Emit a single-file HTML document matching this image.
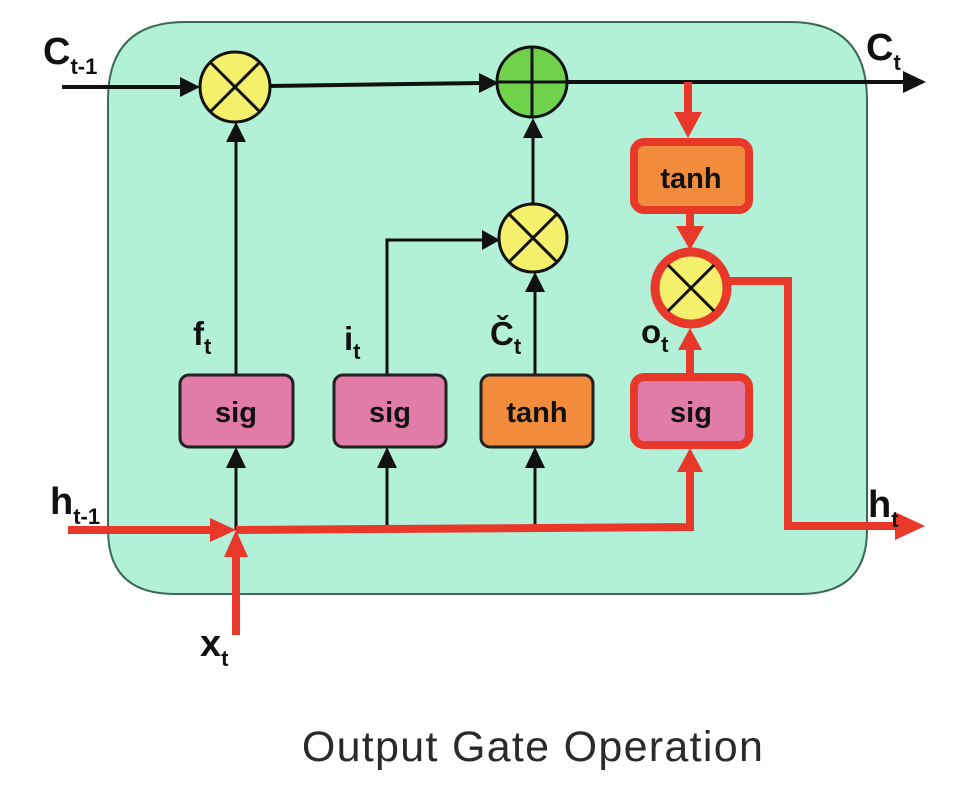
<!DOCTYPE html>
<html><head><meta charset="utf-8"><style>
html,body{margin:0;padding:0;background:#fff;}
svg{display:block;}
.lb{font-family:"Liberation Sans Narrow","Liberation Sans",sans-serif;font-weight:bold;fill:#111;}
</style></head><body>
<svg width="964" height="808" viewBox="0 0 964 808" xmlns="http://www.w3.org/2000/svg">
<path d="M185,22 L790,22 Q867,22 867,100 L867,530 Q867,594 800,594 L175,594 Q108,594 108,530 L108,100 Q108,22 185,22 Z" fill="#b3f0d8" stroke="#3a6a58" stroke-width="2"/>

<line x1="62" y1="87" x2="184" y2="87" stroke="#111" stroke-width="4"/>
<polygon points="180,77 200,87 180,97" fill="#111"/>
<line x1="270" y1="86" x2="482" y2="83" stroke="#111" stroke-width="4"/>
<polygon points="479,73 499,83 479,93" fill="#111"/>
<line x1="567" y1="82" x2="906" y2="82" stroke="#111" stroke-width="4"/>
<polygon points="903,71 926,82 903,93" fill="#111"/>

<line x1="236" y1="375" x2="236" y2="140" stroke="#111" stroke-width="3"/>
<polygon points="226,142 236,122 246,142" fill="#111"/>
<polyline points="387,375 387,240 484,240" fill="none" stroke="#111" stroke-width="3"/>
<polygon points="482,230 500,240 482,250" fill="#111"/>
<line x1="535" y1="375" x2="535" y2="290" stroke="#111" stroke-width="3"/>
<polygon points="525,292 535,272 545,292" fill="#111"/>
<line x1="533" y1="205" x2="533" y2="135" stroke="#111" stroke-width="3"/>
<polygon points="523,138 533,118 543,138" fill="#111"/>

<g stroke="#111" stroke-width="3">
<line x1="236" y1="530" x2="236" y2="465"/>
<line x1="387" y1="530" x2="387" y2="465"/>
<line x1="535" y1="530" x2="535" y2="465"/>
</g>
<polygon points="226,468 236,447 246,468" fill="#111"/>
<polygon points="377,468 387,447 397,468" fill="#111"/>
<polygon points="525,468 535,447 545,468" fill="#111"/>

<g stroke="#e8382a" stroke-width="8" fill="none">
<line x1="68" y1="530" x2="215" y2="530"/>
<polyline points="236,530 690,527 690,470"/>
<line x1="236" y1="635" x2="236" y2="555"/>
<line x1="688" y1="82" x2="688" y2="118"/>
<line x1="690" y1="213" x2="690" y2="232"/>
<line x1="690" y1="373" x2="690" y2="345"/>
<polyline points="730,281 788,281 788,526 900,526"/>
</g>
<polygon points="210,518 236,530 210,542" fill="#e8382a"/>
<polygon points="224,557 236,530 248,557" fill="#e8382a"/>
<polygon points="677,472 690,448 703,472" fill="#e8382a"/>
<polygon points="674,112 688,138 702,112" fill="#e8382a"/>
<polygon points="676,226 690,250 704,226" fill="#e8382a"/>
<polygon points="678,350 690,328 702,350" fill="#e8382a"/>
<polygon points="895,512 925,526 895,540" fill="#e8382a"/>

<g stroke="#111" stroke-width="3">
<circle cx="235" cy="87" r="35" fill="#f4f06c"/>
<line x1="210" y1="62" x2="260" y2="112"/><line x1="260" y1="62" x2="210" y2="112"/>
<circle cx="532" cy="82" r="35" fill="#6fd24a"/>
<line x1="532" y1="47" x2="532" y2="117"/><line x1="497" y1="82" x2="567" y2="82"/>
<circle cx="533" cy="238" r="34" fill="#f4f06c"/>
<line x1="509" y1="214" x2="557" y2="262"/><line x1="557" y1="214" x2="509" y2="262"/>
</g>
<circle cx="691" cy="288" r="36" fill="#f4f06c" stroke="#e8382a" stroke-width="9"/>
<g stroke="#111" stroke-width="3">
<line x1="668" y1="265" x2="714" y2="311"/><line x1="714" y1="265" x2="668" y2="311"/>
</g>

<rect x="180" y="375" width="113" height="72" rx="9" fill="#e17ba8" stroke="#222" stroke-width="3"/>
<rect x="334" y="375" width="112" height="72" rx="9" fill="#e17ba8" stroke="#222" stroke-width="3"/>
<rect x="481" y="375" width="112" height="72" rx="9" fill="#f08c3c" stroke="#222" stroke-width="3"/>
<rect x="634" y="377" width="115" height="68" rx="10" fill="#e17ba8" stroke="#e8382a" stroke-width="8"/>
<rect x="634" y="142" width="115" height="68" rx="10" fill="#f08c3c" stroke="#e8382a" stroke-width="8"/>

<g class="lb" font-size="29" text-anchor="middle">
<text x="236" y="422">sig</text>
<text x="390" y="422">sig</text>
<text x="537" y="422">tanh</text>
<text x="691" y="422">sig</text>
<text x="691" y="188">tanh</text>
</g>

<g class="lb" font-size="38">
<text x="43" y="64">C<tspan font-size="22" dy="10">t-1</tspan></text>
<text x="866" y="60">C<tspan font-size="22" dy="10">t</tspan></text>
<text x="50" y="514">h<tspan font-size="22" dy="10">t-1</tspan></text>
<text x="868" y="517">h<tspan font-size="22" dy="10">t</tspan></text>
<text x="200" y="656">x<tspan font-size="22" dy="10">t</tspan></text>
</g>
<g class="lb" font-size="33">
<text x="193" y="345">f<tspan font-size="22" dy="9">t</tspan></text>
<text x="344" y="350">i<tspan font-size="22" dy="9">t</tspan></text>
<text x="490" y="345">Č<tspan font-size="22" dy="9">t</tspan></text>
<text x="641" y="343">o<tspan font-size="22" dy="9">t</tspan></text>
</g>

<text x="533" y="761" text-anchor="middle" font-family="'Liberation Sans',sans-serif" font-size="43" letter-spacing="1.3" fill="#2a2a2a">Output Gate Operation</text>
</svg>
</body></html>
